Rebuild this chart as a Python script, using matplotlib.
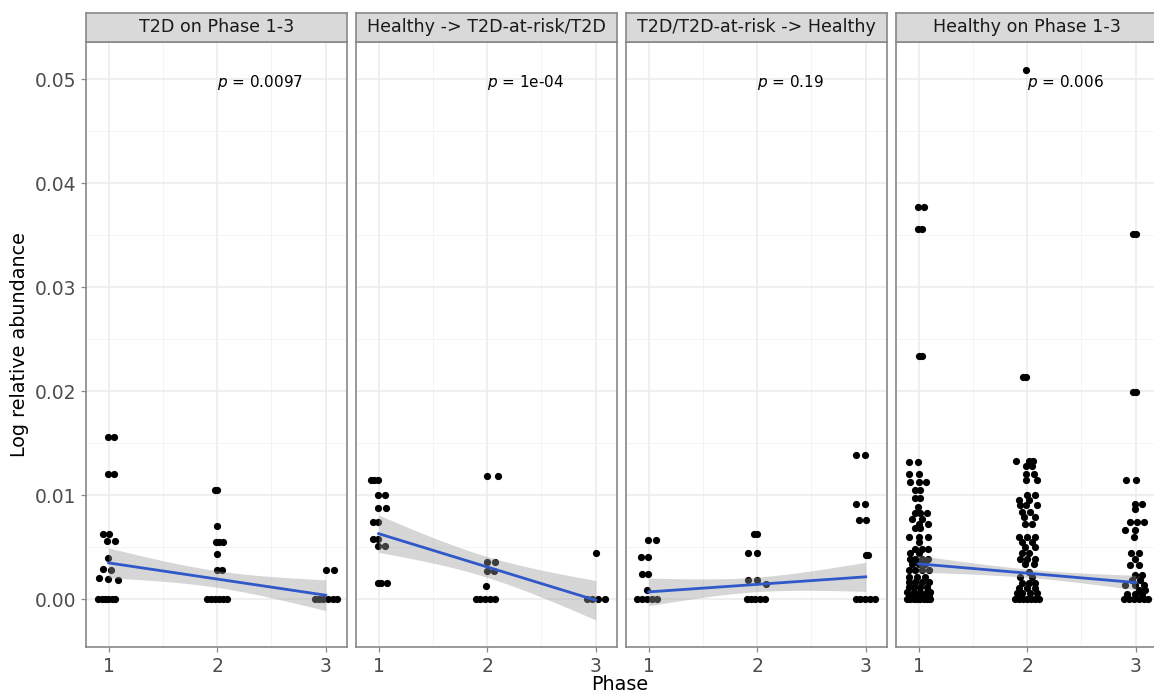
import numpy as np
import matplotlib
matplotlib.use("Agg")
import matplotlib.pyplot as plt

plt.rcParams['font.family'] = ['DejaVu Sans']

# ---------------- data ----------------
panel_titles = ["T2D on Phase 1-3", "Healthy -> T2D-at-risk/T2D",
                "T2D/T2D-at-risk -> Healthy", "Healthy on Phase 1-3"]
p_labels = ["0.0097", "1e-04", "0.19", "0.006"]
y_ticks = [0.00, 0.01, 0.02, 0.03, 0.04, 0.05]
y_tick_labels = ["0.00", "0.01", "0.02", "0.03", "0.04", "0.05"]
x_ticks = [1, 2, 3]

# jittered phase positions and abundances
p1_x = [0.996, 1.052, 0.996, 1.046, 0.945, 1.0, 0.982, 1.058, 0.996, 0.95, 1.018, 0.915, 0.996, 1.089,
        0.904, 0.935, 0.966, 0.996, 1.028, 1.058,
        1.98, 2.001, 1.995, 1.99, 2.02, 2.05, 1.995, 1.995, 2.041,
        1.903, 1.94, 1.977, 2.014, 2.05, 2.088,
        3.003, 3.077, 2.90, 2.94, 2.978, 3.024, 3.07, 3.10]
p1_y = [0.0156, 0.0156, 0.0120, 0.0120, 0.0063, 0.0063, 0.00558, 0.00558, 0.00397, 0.00288, 0.00279, 0.00199, 0.0019, 0.00183,
        0, 0, 0, 0, 0, 0,
        0.0105, 0.0105, 0.00705, 0.0055, 0.0055, 0.0055, 0.0043, 0.0028, 0.0028,
        0, 0, 0, 0, 0, 0,
        0.00276, 0.00276, 0, 0, 0, 0, 0, 0]

p2_x = [0.93, 0.96, 0.99, 0.994, 1.062, 0.994, 1.071, 0.947, 0.994, 0.947, 0.994, 0.994, 1.056,
        0.994, 1.025, 1.077,
        1.998, 2.10, 1.998, 2.075, 1.998, 2.063, 1.992,
        1.894, 1.937, 1.98, 2.023, 2.069,
        3.0, 2.92, 2.97, 3.02, 3.09]
p2_y = [0.0115, 0.0115, 0.0115, 0.0100, 0.0100, 0.00878, 0.00878, 0.00747, 0.00747, 0.00577, 0.00577, 0.00513, 0.00513,
        0.00151, 0.00151, 0.00151,
        0.01186, 0.01186, 0.00359, 0.00359, 0.00269, 0.00269, 0.00128,
        0, 0, 0, 0, 0,
        0.00449, 0, 0, 0, 0]

p3_x = [0.994, 1.067, 0.926, 0.994, 0.938, 0.994, 0.985,
        0.892, 0.938, 0.985, 1.03, 1.077,
        1.97, 2.0, 1.916, 1.994, 1.916, 1.994, 2.085,
        1.906, 1.946, 1.983, 2.029, 2.069,
        2.914, 2.997, 2.914, 2.997, 2.942, 3.0, 3.0, 3.02,
        2.91, 2.945, 2.99, 3.037, 3.083]
p3_y = [0.00567, 0.00567, 0.0041, 0.0041, 0.00247, 0.00247, 0.00087,
        0, 0, 0, 0, 0,
        0.00625, 0.00625, 0.00445, 0.00445, 0.00183, 0.00183, 0.0015,
        0, 0, 0, 0, 0,
        0.01391, 0.01391, 0.00913, 0.00913, 0.00766, 0.00766, 0.00423, 0.00423,
        0, 0, 0, 0, 0]

p4_x = [0.994, 1.049, 0.994, 1.03, 1.0, 1.03,
        0.912, 0.998, 0.908, 1.0, 0.923, 1.0, 1.068, 0.969, 1.015, 0.969, 1.015, 0.994,
        0.969, 1.015, 1.077, 0.939, 1.031, 1.0, 1.086, 0.969, 1.015, 0.914, 1.0, 1.086,
        1.0, 0.969, 1.031, 1.086, 0.923, 1.0, 0.923, 0.969, 1.031, 1.086, 0.939, 1.0, 1.061,
        0.908, 0.969, 1.031, 1.092, 0.908, 0.985, 1.061, 0.908, 0.969, 1.031, 1.092,
        0.908, 0.954, 1.015, 1.077, 0.892, 0.954, 1.015, 1.077, 1.108, 0.908, 0.969, 1.031, 1.092,
        0.892, 0.923, 0.954, 0.985, 1.015, 1.046, 1.077, 1.108,
        1.962, 1.993, 1.99,
        1.897, 2.014, 2.051, 1.985, 2.045, 1.985, 2.06, 1.991, 2.092, 1.998, 2.075,
        1.928, 2.014, 1.937, 1.989, 2.091, 1.952, 2.029, 1.968, 2.075, 1.983, 2.045,
        1.928, 1.998, 2.075, 1.952, 2.045, 1.983, 2.075, 1.952, 2.014, 1.937, 1.998, 2.075,
        1.983, 2.06, 2.014, 1.937, 2.045, 1.952, 2.014, 2.075, 1.922, 1.998, 2.075,
        1.906, 1.952, 2.029, 2.091,
        1.891, 1.928, 1.965, 2.002, 2.039, 2.075, 2.112,
        2.975, 3.003, 2.975, 3.003,
        2.911, 3.003, 2.997, 3.058, 2.991, 2.951, 3.012, 3.074, 2.905, 2.997, 2.982,
        2.960, 3.034, 2.997, 2.951, 3.028, 2.997, 3.058, 2.966, 3.043, 2.905, 2.997, 3.074,
        3.028, 3.089, 2.920, 2.997, 3.058,
        2.889, 2.936, 2.982, 3.028, 3.074, 3.114]
p4_y = [0.03772, 0.03772, 0.03564, 0.03564, 0.02337, 0.02337,
        0.01323, 0.01323, 0.01208, 0.01208, 0.01128, 0.01128, 0.01128, 0.01055, 0.01055, 0.00978, 0.00978, 0.00888,
        0.0083, 0.0083, 0.0083, 0.00776, 0.00776, 0.00728, 0.00728, 0.0068, 0.0068, 0.00599, 0.00599, 0.00599,
        0.00551, 0.00487, 0.00487, 0.00487, 0.0044, 0.0044, 0.00391, 0.00391, 0.00391, 0.00391, 0.00343, 0.00343, 0.00343,
        0.00279, 0.00279, 0.00279, 0.00279, 0.00215, 0.00215, 0.00215, 0.00167, 0.00167, 0.00167, 0.00167,
        0.00119, 0.00119, 0.00119, 0.00119, 0.0007, 0.0007, 0.0007, 0.0007, 0.0007, 0.00038, 0.00038, 0.00038, 0.00038,
        0, 0, 0, 0, 0, 0, 0, 0,
        0.02135, 0.02135, 0.0509,
        0.0133, 0.0133, 0.0133, 0.01279, 0.01279, 0.01208, 0.01208, 0.01144, 0.01144, 0.0100, 0.0100,
        0.00952, 0.00952, 0.00904, 0.00904, 0.00904, 0.0084, 0.0084, 0.00792, 0.00792, 0.00728, 0.00728,
        0.00599, 0.00599, 0.00599, 0.00551, 0.00551, 0.00503, 0.00503, 0.0044, 0.0044, 0.00391, 0.00391, 0.00391,
        0.00343, 0.00343, 0.00263, 0.00215, 0.00215, 0.00157, 0.00157, 0.00157, 0.00103, 0.00103, 0.00103,
        0.00055, 0.00055, 0.00055, 0.00055,
        0, 0, 0, 0, 0, 0, 0,
        0.03516, 0.03516, 0.01997, 0.01997,
        0.01151, 0.01151, 0.0092, 0.0092, 0.00872, 0.00744, 0.00744, 0.00744, 0.00663, 0.00663, 0.00599,
        0.0044, 0.0044, 0.00391, 0.00327, 0.00327, 0.00231, 0.00231, 0.00183, 0.00183, 0.00135, 0.00135, 0.00135,
        0.00087, 0.00087, 0.00048, 0.00048, 0.00048,
        0, 0, 0, 0, 0, 0]

# fitted regression line (value at phase 1 and 3) and CI half-widths at phases 1,2,3
fit_y1 = [0.00349, 0.0063, 0.0007, 0.0034]
fit_y3 = [0.00038, -0.0001, 0.00215, 0.0016]
ci_half = [[0.00144, 0.0008, 0.00148],
           [0.0018, 0.0010, 0.0019],
           [0.00133, 0.0007, 0.0014],
           [0.0008, 0.0004, 0.0007]]

xs_all = [p1_x, p2_x, p3_x, p4_x]
ys_all = [p1_y, p2_y, p3_y, p4_y]

# ---------------- figure ----------------
W, H = 1154, 693
fig = plt.figure(figsize=(W / 100, H / 100), dpi=100)

panel_left = [86, 356, 626, 896]
panel_w = 261
top_px, bottom_px = 42, 647
strip_top = 13

border_col = '#888888'
grid_major = '#ebebeb'
tick_col = '#4d4d4d'

for i in range(4):
    l = panel_left[i] / W
    ax = fig.add_axes([l, 1 - bottom_px / H, panel_w / W, (bottom_px - top_px) / H])
    ax.set_xlim(0.791, 3.196)
    ax.set_ylim(-0.0046, 0.0536)
    ax.set_facecolor('white')
    ax.set_xticks(x_ticks)
    ax.set_xticks([1.5, 2.5], minor=True)
    ax.set_yticks(y_ticks)
    ax.set_yticks([0.005, 0.015, 0.025, 0.035, 0.045], minor=True)
    ax.grid(True, which='major', color=grid_major, lw=1.1, zorder=0)
    ax.grid(True, which='minor', color='#f3f3f3', lw=0.6, zorder=0)
    ax.set_axisbelow(True)
    for s in ax.spines.values():
        s.set_color(border_col)
        s.set_linewidth(1.2)
    ax.tick_params(axis='both', which='minor', length=0)
    ax.tick_params(axis='both', which='major', colors=border_col, length=3.5, width=0.9,
                   labelcolor=tick_col, labelsize=13.5)
    ax.set_xticklabels([str(t) for t in x_ticks])
    if i == 0:
        ax.set_yticklabels(y_tick_labels)
    else:
        ax.tick_params(axis='y', which='major', length=0, labelleft=False)

    ax.scatter(xs_all[i], ys_all[i], s=27, color='black', linewidths=0, zorder=2)

    xx = np.linspace(1, 3, 200)
    yy = fit_y1[i] + (fit_y3[i] - fit_y1[i]) * (xx - 1) / 2
    coef = np.polyfit([1, 2, 3], np.array(ci_half[i]) ** 2, 2)
    hw = np.sqrt(np.clip(np.polyval(coef, xx), 0, None))
    ax.fill_between(xx, yy - hw, yy + hw, color='#999999', alpha=0.4, lw=0, zorder=3)
    ax.plot(xx, yy, color='#3058C8', lw=2.0, zorder=4)

    ax.text(2.0, 0.0497, r'$p$' + ' = ' + p_labels[i], fontsize=11.0, ha='left', va='center',
            color='black', zorder=5)

    sax = fig.add_axes([l, 1 - top_px / H, panel_w / W, (top_px - strip_top) / H])
    sax.set_facecolor('#d9d9d9')
    sax.set_xticks([])
    sax.set_yticks([])
    for s in sax.spines.values():
        s.set_color(border_col)
        s.set_linewidth(1.2)
    sax.text(0.5, 0.5, panel_titles[i], transform=sax.transAxes, ha='center', va='center',
             fontsize=12.6, color='#1a1a1a')

fig.text(20 / W, 1 - 345 / H, 'Log relative abundance', rotation=90, ha='center', va='center',
         fontsize=13.8, color='black')
fig.text(620 / W, 1 - 684 / H, 'Phase', ha='center', va='center', fontsize=13.8, color='black')

fig.savefig('out.png', dpi=100)
